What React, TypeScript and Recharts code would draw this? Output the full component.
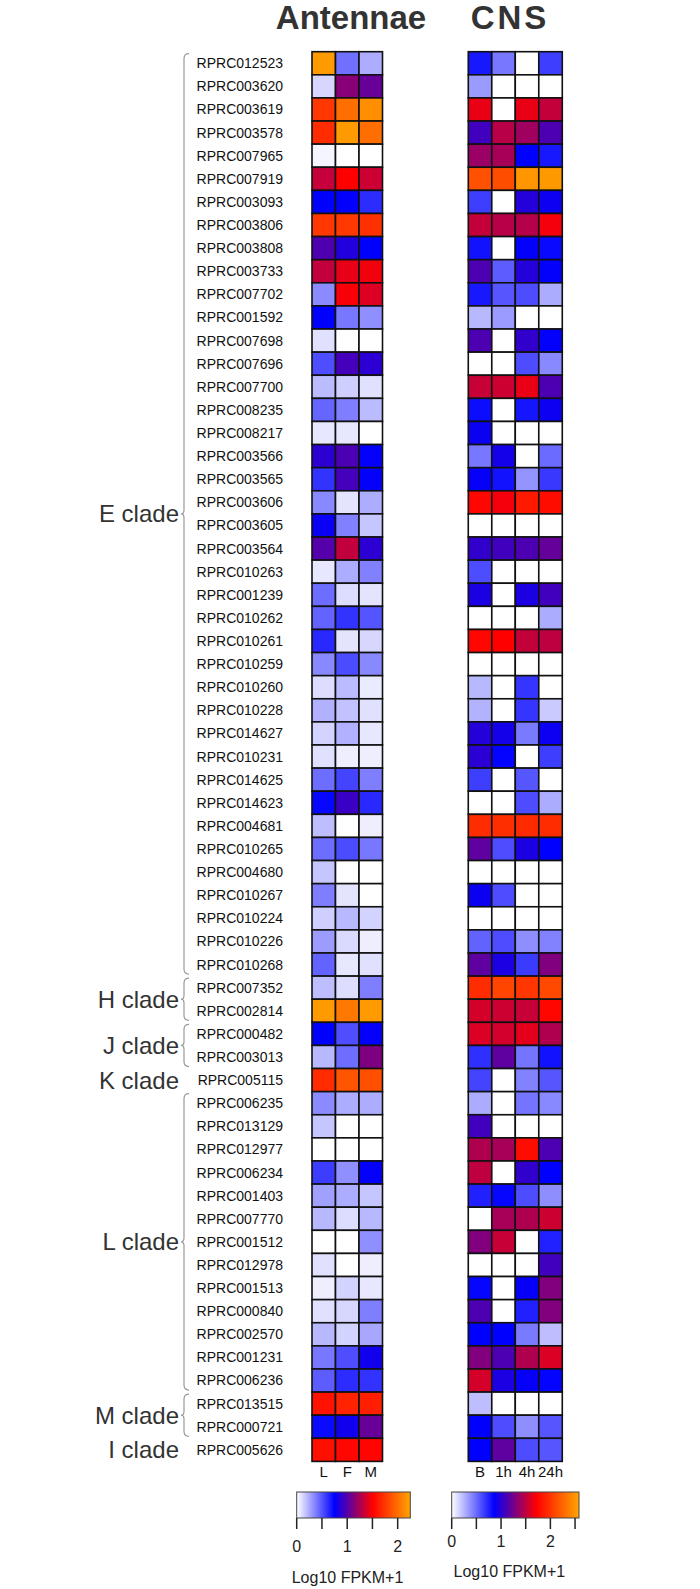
import { ScatterChart, Scatter, XAxis, YAxis } from 'recharts';

const genes = [
  'RPRC012523', 'RPRC003620', 'RPRC003619', 'RPRC003578', 'RPRC007965', 'RPRC007919', 'RPRC003093',
  'RPRC003806', 'RPRC003808', 'RPRC003733', 'RPRC007702', 'RPRC001592', 'RPRC007698', 'RPRC007696',
  'RPRC007700', 'RPRC008235', 'RPRC008217', 'RPRC003566', 'RPRC003565', 'RPRC003606', 'RPRC003605',
  'RPRC003564', 'RPRC010263', 'RPRC001239', 'RPRC010262', 'RPRC010261', 'RPRC010259', 'RPRC010260',
  'RPRC010228', 'RPRC014627', 'RPRC010231', 'RPRC014625', 'RPRC014623', 'RPRC004681', 'RPRC010265',
  'RPRC004680', 'RPRC010267', 'RPRC010224', 'RPRC010226', 'RPRC010268', 'RPRC007352', 'RPRC002814',
  'RPRC000482', 'RPRC003013', 'RPRC005115', 'RPRC006235', 'RPRC013129', 'RPRC012977', 'RPRC006234',
  'RPRC001403', 'RPRC007770', 'RPRC001512', 'RPRC012978', 'RPRC001513', 'RPRC000840', 'RPRC002570',
  'RPRC001231', 'RPRC006236', 'RPRC013515', 'RPRC000721', 'RPRC005626',
];

const antennaeCols = ['L', 'F', 'M'];
const cnsCols = ['B', '1h', '4h', '24h'];

// Log10 FPKM+1, rows follow genes, columns L F M
const antennaeValues = [
  [2.2, 0.42, 0.24], [0.12, 1.15, 1.05], [1.75, 2.0, 2.15], [1.7, 2.2, 2.0], [0.03, 0, 0],
  [1.33, 1.5, 1.35], [0.75, 0.76, 0.62], [1.75, 1.76, 1.72], [0.98, 0.85, 0.75], [1.32, 1.43, 1.46],
  [0.34, 1.48, 1.4], [0.75, 0.4, 0.33], [0.09, 0, 0], [0.52, 0.95, 0.88], [0.2, 0.14, 0.09],
  [0.45, 0.38, 0.2], [0.07, 0.07, 0], [0.88, 0.97, 0.76], [0.6, 0.95, 0.76], [0.35, 0.08, 0.24],
  [0.78, 0.37, 0.17], [1.0, 1.32, 0.88], [0.07, 0.24, 0.37], [0.43, 0.1, 0.08], [0.46, 0.6, 0.5],
  [0.63, 0.08, 0.12], [0.35, 0.53, 0.35], [0.1, 0.2, 0.06], [0.23, 0.18, 0.09], [0.13, 0.23, 0.07],
  [0.09, 0.05, 0.05], [0.43, 0.55, 0.38], [0.73, 0.92, 0.63], [0.19, 0, 0.05], [0.43, 0.53, 0.4],
  [0.17, 0, 0], [0.38, 0.08, 0], [0.14, 0.21, 0.13], [0.29, 0.11, 0.05], [0.46, 0.07, 0.09],
  [0.19, 0.1, 0.38], [2.2, 2.05, 2.2], [0.75, 0.52, 0.76], [0.21, 0.43, 1.12], [1.7, 1.88, 1.86],
  [0.34, 0.24, 0.24], [0.17, 0, 0], [0, 0, 0], [0.57, 0.33, 0.76], [0.28, 0.24, 0.17],
  [0.21, 0.1, 0.21], [0, 0, 0.33], [0.09, 0, 0.05], [0.05, 0.13, 0.07], [0.09, 0.12, 0.38],
  [0.21, 0.13, 0.26], [0.4, 0.52, 0.8], [0.48, 0.62, 0.6], [1.58, 1.66, 1.64], [0.72, 0.8, 1.05],
  [1.57, 1.53, 1.52],
];

// columns B 1h 4h 24h
const cnsValues = [
  [0.78, 0.46, 0, 0.65], [0.34, 0, 0, 0], [1.65, 0, 1.65, 1.52], [1.08, 1.48, 1.4, 1.12],
  [1.38, 1.42, 0.86, 0.78], [2.14, 2.12, 2.5, 2.52], [0.65, 0, 0.98, 0.9], [1.52, 1.48, 1.47, 1.68],
  [0.8, 0, 0.87, 0.83], [1.12, 0.55, 0.98, 0.87], [0.78, 0.57, 0.6, 0.28], [0.24, 0.34, 0, 0],
  [1.12, 0, 1.03, 0.87], [0, 0, 0.6, 0.4], [1.53, 1.55, 1.65, 1.12], [0.82, 0, 0.79, 0.9],
  [0.9, 0, 0, 0], [0.46, 0.93, 0, 0.5], [0.88, 0.8, 0.36, 0.67], [1.75, 1.68, 1.85, 1.78],
  [0, 0, 0, 0], [1.03, 1.08, 1.12, 1.2], [0.6, 0, 0, 0], [0.95, 0, 0.95, 1.08],
  [0, 0, 0, 0.28], [1.75, 1.72, 1.52, 1.5], [0, 0, 0, 0], [0.24, 0, 0.68, 0],
  [0.26, 0, 0.68, 0.18], [0.98, 0.93, 0.45, 0.9], [1.0, 0.85, 0, 0.65], [0.65, 0, 0.57, 0],
  [0, 0, 0.6, 0.28], [1.95, 1.96, 1.94, 1.95], [1.18, 0.6, 0.95, 0.86], [0, 0, 0, 0],
  [0.9, 0.6, 0, 0], [0, 0, 0, 0], [0.53, 0.6, 0.38, 0.42], [1.18, 0.95, 0.66, 1.29],
  [1.95, 2.08, 2.0, 2.1], [1.58, 1.55, 1.53, 1.75], [1.6, 1.57, 1.63, 1.45], [0.7, 1.18, 0.47, 0.8],
  [0.63, 0, 0.42, 0.57], [0.28, 0, 0.47, 0.4], [1.08, 0, 0, 0], [1.45, 1.42, 1.78, 1.12],
  [1.5, 0, 1.03, 0.86], [0.75, 0.84, 0.6, 0.38], [0, 1.42, 1.45, 1.55], [1.3, 1.53, 0, 0.75],
  [0, 0, 0, 1.08], [0.84, 0, 0.88, 1.3], [1.12, 0, 0.75, 1.3], [0.86, 0.86, 0.45, 0.22],
  [1.3, 1.12, 1.45, 1.6], [1.58, 0.95, 0.88, 0.85], [0.22, 0, 0, 0], [0.86, 0.6, 0.38, 0.57],
  [0.86, 1.18, 0.6, 0.57],
];

const clades = [
  { name: 'E clade', from: 0, to: 40, brace: true },
  { name: 'H clade', from: 40, to: 42, brace: true },
  { name: 'J clade', from: 42, to: 44, brace: true },
  { name: 'K clade', from: 44, to: 45, brace: false },
  { name: 'L clade', from: 45, to: 58, brace: true },
  { name: 'M clade', from: 58, to: 60, brace: true },
  { name: 'I clade', from: 60, to: 61, brace: false },
];

const ANT_MAX = 2.25;
const CNS_MAX = 2.58;
const legendTicks = [0, 1, 2];

const FONT = '"Liberation Sans", Arial, sans-serif';
const W = 700;
const H = 1589;
const TOP = 51.7;
const ROW_H = 23.11;
const PLOT_LEFT = 312;
const CELL_W = 23.5;
const CNS_OFFSET = 6.65;
const X_MAX = CNS_OFFSET + 4;
const PLOT_BOTTOM = TOP + genes.length * ROW_H;

// white -> blue -> red -> orange
const stops: [number, number, number][] = [[255, 255, 255], [0, 0, 255], [255, 0, 0], [255, 165, 0]];

function heatColor(v: number, max: number) {
  const t = Math.max(0, Math.min(1, v / max)) * (stops.length - 1);
  const i = Math.min(stops.length - 2, Math.floor(t));
  const f = t - i;
  const c = stops[i].map((s, k) => Math.round(s + (stops[i + 1][k] - s) * f));
  return `rgb(${c[0]},${c[1]},${c[2]})`;
}

const antennaeData = antennaeValues.flatMap((row, r) =>
  row.map((value, c) => ({ x: c + 0.5, y: r + 0.5, value }))
);
const cnsData = cnsValues.flatMap((row, r) =>
  row.map((value, c) => ({ x: CNS_OFFSET + c + 0.5, y: r + 0.5, value }))
);

const xTicks = [
  ...antennaeCols.map((_, i) => i + 0.5),
  ...cnsCols.map((_, i) => CNS_OFFSET + i + 0.5),
];
const xLabels = [...antennaeCols, ...cnsCols];

const cellShape = (max: number) => (props: any) => {
  const { cx, cy, payload } = props;
  return (
    <rect
      x={cx - CELL_W / 2}
      y={cy - ROW_H / 2}
      width={CELL_W}
      height={ROW_H}
      fill={heatColor(payload.value, max)}
      stroke="#111"
      strokeWidth={1.6}
    />
  );
};

function bracePath(x: number, y1: number, y2: number) {
  const ym = (y1 + y2) / 2;
  return `M ${x + 5} ${y1} Q ${x} ${y1} ${x} ${y1 + 5} L ${x} ${ym - 4} Q ${x} ${ym} ${x - 3} ${ym} Q ${x} ${ym} ${x} ${ym + 4} L ${x} ${y2 - 5} Q ${x} ${y2} ${x + 5} ${y2}`;
}

function ColorLegend({ id, x, width, max, labelY, titleY, titleSize }: {
  id: string; x: number; width: number; max: number; labelY: number; titleY: number; titleSize: number;
}) {
  const barTop = 1492;
  const barH = 26;
  const unit = width / max;
  const ticks: number[] = [];
  for (let v = 0; v <= max + 1e-9; v += 0.5) ticks.push(v);
  return (
    <g>
      <defs>
        <linearGradient id={id} x1="0" x2="1" y1="0" y2="0">
          {stops.map((s, i) => (
            <stop key={i} offset={i / (stops.length - 1)} stopColor={`rgb(${s[0]},${s[1]},${s[2]})`} />
          ))}
        </linearGradient>
      </defs>
      <rect x={x} y={barTop} width={width} height={barH} fill={`url(#${id})`} stroke="#444" strokeWidth={1} />
      {ticks.map(v => (
        <line key={v} x1={x + v * unit} x2={x + v * unit} y1={barTop + barH} y2={barTop + barH + 11} stroke="#222" strokeWidth={1.5} />
      ))}
      {legendTicks.map(v => (
        <text key={v} x={x + v * unit} y={labelY} textAnchor="middle" dominantBaseline="central" fontSize={16} fill="#222">
          {v}
        </text>
      ))}
      <text x={x + width / 2 - 6} y={titleY} textAnchor="middle" dominantBaseline="central" fontSize={titleSize} fill="#222">
        Log10 FPKM+1
      </text>
    </g>
  );
}

export default function App() {
  return (
    <div style={{ position: 'absolute', left: 0, top: 0, width: W, height: H, background: '#fff', fontFamily: FONT }}>
      <ScatterChart
        width={W}
        height={H}
        margin={{ top: TOP, bottom: 0, left: 0, right: W - PLOT_LEFT - X_MAX * CELL_W }}
        style={{ fontFamily: FONT }}
      >
        <XAxis
          type="number"
          dataKey="x"
          domain={[0, X_MAX]}
          ticks={xTicks}
          interval={0}
          tickFormatter={(v: number) => xLabels[xTicks.indexOf(v)] ?? ''}
          axisLine={false}
          tickLine={false}
          tickSize={0}
          tickMargin={5}
          height={H - PLOT_BOTTOM}
          tick={{ fill: '#111', fontSize: 15 }}
        />
        <YAxis
          type="number"
          dataKey="y"
          domain={[0, genes.length]}
          reversed
          ticks={genes.map((_, i) => i + 0.5)}
          interval={0}
          tickFormatter={(v: number) => genes[Math.floor(v)]}
          axisLine={false}
          tickLine={false}
          tickSize={0}
          tickMargin={29}
          width={PLOT_LEFT}
          tick={{ fill: '#111', fontSize: 14 }}
        />
        <Scatter data={antennaeData} shape={cellShape(ANT_MAX)} isAnimationActive={false} />
        <Scatter data={cnsData} shape={cellShape(CNS_MAX)} isAnimationActive={false} />
      </ScatterChart>

      <svg width={W} height={H} style={{ position: 'absolute', left: 0, top: 0, pointerEvents: 'none' }} fontFamily={FONT}>
        <text x={351} y={17} textAnchor="middle" dominantBaseline="central" fontSize={33} fontWeight="bold" fill="#333">
          Antennae
        </text>
        <text x={510} y={17} textAnchor="middle" dominantBaseline="central" fontSize={33} fontWeight="bold" fill="#333" letterSpacing={3}>
          CNS
        </text>
        {clades.map(c => {
          const y1 = TOP + c.from * ROW_H;
          const y2 = TOP + c.to * ROW_H;
          return (
            <g key={c.name}>
              <text x={179} y={(y1 + y2) / 2} textAnchor="end" dominantBaseline="central" fontSize={24} fill="#333">
                {c.name}
              </text>
              {c.brace && (
                <path d={bracePath(184, y1 + 2, y2 - 2)} fill="none" stroke="#999" strokeWidth={1.2} />
              )}
            </g>
          );
        })}
        <ColorLegend id="antGrad" x={296.7} width={113.6} max={ANT_MAX} labelY={1546} titleY={1577} titleSize={16} />
        <ColorLegend id="cnsGrad" x={451.7} width={127.3} max={CNS_MAX} labelY={1541} titleY={1571} titleSize={16} />
      </svg>
    </div>
  );
}
